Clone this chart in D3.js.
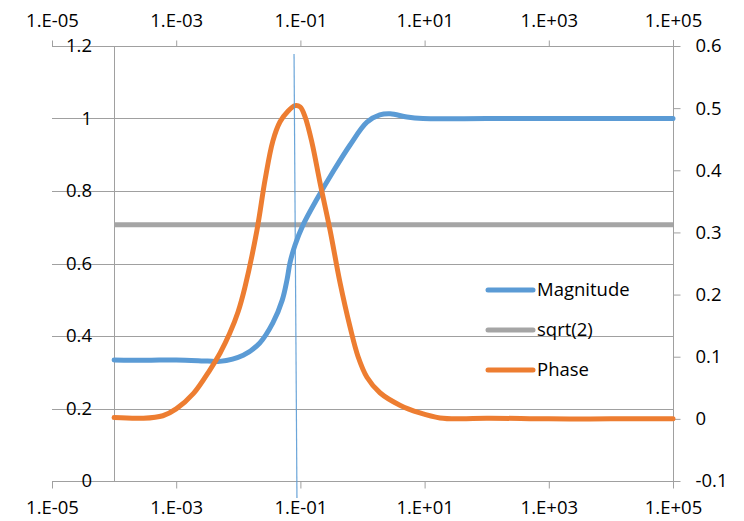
<!DOCTYPE html>
<html>
<head>
<meta charset="utf-8">
<script src="https://cdn.jsdelivr.net/npm/d3@7"></script>
<style>
  html, body { margin: 0; padding: 0; background: #fff; }
  svg { display: block; }
  text { font-family: "Open Sans", "Liberation Sans", Arial, sans-serif; fill: #000; }
</style>
</head>
<body>
<svg id="chart" width="744" height="521"></svg>
<script>
// ---------- data ----------
const xTickValues = [1e-5, 1e-3, 1e-1, 1e1, 1e3, 1e5];
const xTickLabels = ["1.E-05", "1.E-03", "1.E-01", "1.E+01", "1.E+03", "1.E+05"];
const leftTickValues = [0, 0.2, 0.4, 0.6, 0.8, 1, 1.2];
const leftTickLabels = ["0", "0.2", "0.4", "0.6", "0.8", "1", "1.2"];
const rightTickValues = [-0.1, 0, 0.1, 0.2, 0.3, 0.4, 0.5, 0.6];
const rightTickLabels = ["-0.1", "0", "0.1", "0.2", "0.3", "0.4", "0.5", "0.6"];

// Magnitude (left axis)
const magX = [1e-4, 3.2e-4, 1e-3, 3.2e-3, 5e-3, 0.012, 0.022, 0.036, 0.051, 0.061, 0.068, 0.082, 0.11, 0.185, 0.335, 0.63, 1.18, 1.9, 2.8, 5.2, 9.4, 100, 1000, 1e4, 1e5];
const magY = [0.334, 0.333, 0.334, 0.331, 0.330, 0.347, 0.380, 0.436, 0.499, 0.556, 0.602, 0.651, 0.706, 0.778, 0.853, 0.927, 0.990, 1.010, 1.013, 1.004, 1.000, 1.000, 1.000, 1.000, 1.000];

// sqrt(2) reference (left axis)
const refX = [1e-4, 1e5];
const refY = [0.7071, 0.7071];

// Phase (right axis)
const phaseX = [1e-4, 2.9e-4, 6.1e-4, 1e-3, 1.9e-3, 3.5e-3, 5.1e-3, 7.3e-3, 0.0099, 0.0128, 0.02, 0.027, 0.036, 0.047, 0.063, 0.082, 0.099, 0.119, 0.154, 0.207, 0.3, 0.435, 0.63, 0.85, 1.18, 1.91, 4.0, 8.4, 17.7, 37, 100, 1000, 1e4, 1e5];
const phaseY = [0.002, 0.001, 0.005, 0.016, 0.041, 0.079, 0.106, 0.138, 0.172, 0.212, 0.304, 0.385, 0.447, 0.478, 0.495, 0.504, 0.502, 0.486, 0.444, 0.380, 0.304, 0.219, 0.148, 0.100, 0.067, 0.042, 0.022, 0.0095, 0.0015, 0.000, 0.001, 0.000, 0.000, 0.000];

// thin vertical marker line (left axis units)
const markerX = [0.079, 0.088];
const markerY = [1.178, -0.047];

const seriesNames = ["Magnitude", "sqrt(2)", "Phase"];
const seriesColors = ["#5B9BD5", "#A5A5A5", "#ED7D31"];

// ---------- layout ----------
const svg = d3.select("#chart");
const x = d3.scaleLog().domain([1e-5, 1e5]).range([52, 673]);
const yL = d3.scaleLinear().domain([0, 1.2]).range([481, 46]);
const yR = d3.scaleLinear().domain([-0.1, 0.6]).range([481, 46]);
const gridColor = "#A0A0A0";
const fontSize = 18.5;
const fontFamily = "Open Sans, Liberation Sans, Arial, sans-serif";

// horizontal gridlines
svg.append("g").selectAll("line").data(leftTickValues).join("line")
  .attr("x1", x(1e-5)).attr("x2", x(1e5))
  .attr("y1", d => Math.round(yL(d)) + 0.5).attr("y2", d => Math.round(yL(d)) + 0.5)
  .attr("stroke", gridColor).attr("stroke-width", 1);

// primary vertical axis line at 1e-4
svg.append("line")
  .attr("x1", Math.round(x(1e-4)) + 0.5).attr("x2", Math.round(x(1e-4)) + 0.5)
  .attr("y1", yL(1.2)).attr("y2", yL(0))
  .attr("stroke", gridColor).attr("stroke-width", 1);

// top axis
const topAxis = svg.append("g").attr("transform", `translate(0,${Math.round(yL(1.2)) + 0.5})`)
  .call(d3.axisTop(x).tickValues(xTickValues).tickFormat((d, i) => xTickLabels[i]).tickSize(6).tickPadding(14));
// bottom axis
const botAxis = svg.append("g").attr("transform", `translate(0,${Math.round(yL(0)) + 0.5})`)
  .call(d3.axisBottom(x).tickValues(xTickValues).tickFormat((d, i) => xTickLabels[i]).tickSize(7).tickPadding(12));
// right axis
const rightAxis = svg.append("g").attr("transform", `translate(${Math.round(x(1e5)) + 0.5},0)`)
  .call(d3.axisRight(yR).tickValues(rightTickValues).tickFormat((d, i) => rightTickLabels[i]).tickSize(7).tickPadding(15));

[topAxis, botAxis, rightAxis].forEach(g => {
  g.select(".domain").attr("stroke", gridColor);
  g.selectAll(".tick line").attr("stroke", gridColor);
  g.selectAll(".tick text").attr("font-size", fontSize).attr("font-family", fontFamily).attr("fill", "#000");
});
topAxis.select(".domain").remove();
botAxis.select(".domain").remove();
rightAxis.select(".domain").attr("d", `M0,${yL(1.2) - 6}V${yL(0) + 7}`);

// left labels
svg.append("g").selectAll("text").data(leftTickValues).join("text")
  .attr("x", 92).attr("y", d => yL(d))
  .attr("dy", "0.35em")
  .attr("text-anchor", "end")
  .attr("font-size", fontSize)
  .text((d, i) => leftTickLabels[i]);

// series
const lineL = d3.line().x(d => x(d[0])).y(d => yL(d[1])).curve(d3.curveCatmullRom.alpha(0.5));
const lineR = d3.line().x(d => x(d[0])).y(d => yR(d[1])).curve(d3.curveCatmullRom.alpha(0.5));

svg.append("path").datum(refX.map((v, i) => [v, refY[i]]))
  .attr("d", lineL).attr("fill", "none").attr("stroke", seriesColors[1]).attr("stroke-width", 5);

svg.append("path").datum(magX.map((v, i) => [v, magY[i]]))
  .attr("d", lineL).attr("fill", "none").attr("stroke", seriesColors[0]).attr("stroke-width", 5)
  .attr("stroke-linecap", "round").attr("stroke-linejoin", "round");

svg.append("path").datum(phaseX.map((v, i) => [v, phaseY[i]]))
  .attr("d", lineR).attr("fill", "none").attr("stroke", seriesColors[2]).attr("stroke-width", 5)
  .attr("stroke-linecap", "round").attr("stroke-linejoin", "round");

// thin vertical marker
svg.append("path").datum(markerX.map((v, i) => [v, markerY[i]]))
  .attr("d", d3.line().x(d => x(d[0])).y(d => yL(d[1])))
  .attr("fill", "none").attr("stroke", "#5B9BD5").attr("stroke-width", 1.2).attr("opacity", 0.9);

// legend
const legend = svg.append("g").attr("transform", "translate(488,290)");
seriesNames.forEach((name, i) => {
  const g = legend.append("g").attr("transform", `translate(0,${i * 40})`);
  g.append("line").attr("x1", 0).attr("x2", 45).attr("y1", 0).attr("y2", 0)
    .attr("stroke", seriesColors[i]).attr("stroke-width", 5).attr("stroke-linecap", "round");
  g.append("text").attr("x", 49).attr("y", 0).attr("dy", "0.35em")
    .attr("font-size", fontSize).text(name);
});
</script>
</body>
</html>
